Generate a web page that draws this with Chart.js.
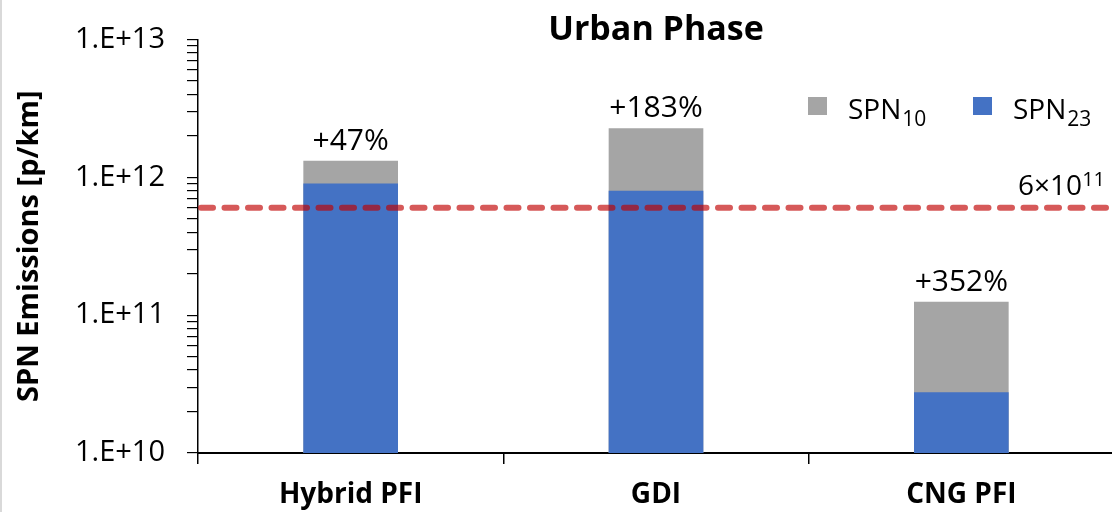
<!DOCTYPE html>
<html>
<head>
<meta charset="utf-8">
<script src="https://cdn.jsdelivr.net/npm/chart.js@4.4.1/dist/chart.umd.min.js"></script>
<style>
  html, body { margin: 0; padding: 0; background: #fff; overflow: hidden; }
  #wrap { position: relative; width: 1116px; height: 512px; }
  #edge { position: absolute; left: 0; top: 0; width: 2px; height: 512px; background: #d9d9d9; }
</style>
</head>
<body>
<div id="wrap"><canvas id="chart" width="1116" height="512"></canvas><div id="edge"></div></div>
<script>
const categories = ['Hybrid PFI', 'GDI', 'CNG PFI'];
const spn23 = [9.0e11, 8.0e11, 2.76e10];
const spn10 = [1.32e12, 2.27e12, 1.25e11];
const increaseLabels = ['+47%', '+183%', '+352%'];
const limitValue = 6e11;
const yMajorTicks = [1e10, 1e11, 1e12, 1e13];
const yTickLabels = ['1.E+10', '1.E+11', '1.E+12', '1.E+13'];

const FONT = "'Open Sans', 'Noto Sans', sans-serif";

// dashed limit line, % labels, legend with subscripts
const overlay = {
  id: 'overlay',
  afterDatasetsDraw(chart) {
    const ctx = chart.ctx;
    const area = chart.chartArea;
    const y = chart.scales.y;

    // limit line
    const ly = y.getPixelForValue(limitValue);
    ctx.save();
    ctx.strokeStyle = 'rgba(192, 0, 0, 0.65)';
    ctx.lineWidth = 6;
    ctx.lineCap = 'round';
    ctx.setLineDash([12, 11.5]);
    ctx.beginPath();
    ctx.moveTo(area.left + 3, ly);
    ctx.lineTo(area.right + 10, ly);
    ctx.stroke();
    ctx.restore();

    // limit label 6x10^11
    ctx.save();
    ctx.fillStyle = '#000';
    ctx.textBaseline = 'alphabetic';
    ctx.textAlign = 'right';
    ctx.font = '20px ' + FONT;
    const supW = ctx.measureText('11').width;
    const rx = 1105;
    ctx.fillText('11', rx, ly - 22);
    ctx.font = '28px ' + FONT;
    ctx.fillText('6\u00d710', rx - supW, ly - 13);
    ctx.restore();

    // increase labels above the grey bars
    const meta = chart.getDatasetMeta(1);
    ctx.save();
    ctx.fillStyle = '#000';
    ctx.font = '30px ' + FONT;
    ctx.textAlign = 'center';
    ctx.textBaseline = 'alphabetic';
    meta.data.forEach((bar, i) => {
      ctx.fillText(increaseLabels[i], bar.x, bar.y - 11);
    });
    ctx.restore();

    // legend
    const items = [
      { ds: chart.data.datasets[1], sq: 808 },
      { ds: chart.data.datasets[0], sq: 973 }
    ];
    ctx.save();
    ctx.textAlign = 'left';
    ctx.textBaseline = 'alphabetic';
    items.forEach(it => {
      ctx.fillStyle = it.ds.backgroundColor;
      ctx.fillRect(it.sq, 97, 19, 18);
      const name = it.ds.label.replace(/\d+$/, '');
      const sub = it.ds.label.slice(name.length);
      ctx.fillStyle = '#000';
      ctx.font = '28px ' + FONT;
      ctx.fillText(name, it.sq + 40, 119);
      const w = ctx.measureText(name).width;
      ctx.font = '21px ' + FONT;
      ctx.fillText(sub, it.sq + 40 + w + 1, 126);
    });
    ctx.restore();
  }
};

new Chart(document.getElementById('chart'), {
  type: 'bar',
  data: {
    labels: categories,
    datasets: [
      {
        label: 'SPN23',
        data: spn23,
        backgroundColor: '#4472C4',
        grouped: false,
        barPercentage: 0.31,
        categoryPercentage: 1
      },
      {
        label: 'SPN10',
        data: spn10,
        backgroundColor: '#A5A5A5',
        grouped: false,
        barPercentage: 0.31,
        categoryPercentage: 1
      }
    ]
  },
  options: {
    responsive: false,
    animation: false,
    layout: { padding: { top: 16, right: 2, left: 0, bottom: 0 } },
    plugins: {
      legend: { display: false },
      tooltip: { enabled: false },
      title: {
        display: true,
        text: 'Urban Phase',
        fullSize: false,
        color: '#000',
        font: { family: FONT, size: 34, weight: 'bold', lineHeight: 0.56 },
        padding: { top: 0, bottom: 0 }
      }
    },
    scales: {
      x: {
        type: 'category',
        grid: { offset: true, drawOnChartArea: false, tickLength: 11, color: '#000', lineWidth: 1.5 },
        border: { color: '#000', width: 2 },
        ticks: { color: '#000', padding: 14, font: { family: FONT, size: 28, weight: 'bold' } },
        afterFit(scale) { scale.height = 59; }
      },
      y: {
        type: 'logarithmic',
        min: 1e10,
        max: 1e13,
        grid: { drawOnChartArea: false, tickLength: 11, color: '#000', lineWidth: 1.2 },
        border: { color: '#000', width: 1.5 },
        afterBuildTicks(scale) {
          const t = [];
          yMajorTicks.forEach((v, i) => {
            if (i === yMajorTicks.length - 1) { t.push({ value: v, major: true }); return; }
            for (let m = 1; m < 10; m++) t.push({ value: v * m, major: m === 1 });
          });
          scale.ticks = t;
        },
        ticks: {
          autoSkip: false,
          color: '#000',
          padding: 22,
          font: { family: FONT, size: 29 },
          callback(value) {
            const i = yMajorTicks.indexOf(value);
            return i >= 0 ? yTickLabels[i] : '';
          }
        },
        title: {
          display: true,
          text: 'SPN Emissions [p/km]',
          color: '#000',
          font: { family: FONT, size: 29, weight: 'bold' },
          padding: { top: 12, bottom: 0 }
        },
        afterFit(scale) { scale.width = 198; }
      }
    }
  },
  plugins: [overlay]
});
</script>
</body>
</html>
